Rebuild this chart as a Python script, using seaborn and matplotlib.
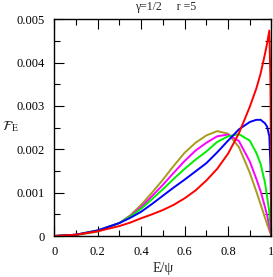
"""
Energy distribution F_E for gamma=1/2, r=5
"""

import numpy as np
import pandas as pd
import matplotlib
matplotlib.use("Agg")
import matplotlib.pyplot as plt
from matplotlib.ticker import MultipleLocator, FuncFormatter
import seaborn as sns

# E/psi sample points
e_psi = [0, 0.1, 0.2, 0.3, 0.35, 0.4, 0.45, 0.5, 0.55, 0.6, 0.65, 0.7, 0.75,
         0.8, 0.85, 0.9, 0.93, 0.95, 0.97, 0.98, 0.99, 0.995, 1.0]

# curve values in units of 1e-3
f_red = [0, 0.03, 0.11, 0.23, 0.31, 0.41, 0.5, 0.6, 0.72, 0.87, 1.05, 1.28, 1.55,
         1.9, 2.37, 2.98, 3.4, 3.75, 4.2, 4.45, 4.74, 3.6, 0]
f_blue = [0, 0.03, 0.13, 0.3, 0.42, 0.56, 0.74, 0.93, 1.12, 1.3, 1.49, 1.68, 1.93,
          2.2, 2.46, 2.63, 2.68, 2.68, 2.6, 2.52, 2.3, 1.64, 0]
f_green = [0, 0.03, 0.13, 0.3, 0.45, 0.63, 0.85, 1.08, 1.32, 1.55, 1.76, 1.95, 2.17,
           2.3, 2.35, 2.2, 1.92, 1.66, 1.23, 0.9, 0.55, 0.25, 0]
f_magenta = [0, 0.03, 0.12, 0.3, 0.46, 0.67, 0.92, 1.18, 1.46, 1.73, 1.97, 2.15, 2.3,
             2.34, 2.19, 1.72, 1.32, 1.03, 0.67, 0.47, 0.23, 0.12, 0]
f_olive = [0, 0.02, 0.1, 0.3, 0.48, 0.72, 1.0, 1.3, 1.62, 1.92, 2.15, 2.32, 2.42,
           2.36, 2.05, 1.46, 1.03, 0.73, 0.42, 0.27, 0.13, 0.06, 0]

curves = {
    "olive": f_olive,
    "magenta": f_magenta,
    "green": f_green,
    "blue": f_blue,
    "red": f_red,
}
colors = {"olive": "#a89c1c", "magenta": "#ff00ff", "green": "#00ee00",
          "blue": "#0000ff", "red": "#ff0000"}

rows = []
for name, vals in curves.items():
    for x, v in zip(e_psi, vals):
        rows.append({"E": x, "F": v * 1e-3, "curve": name})
df = pd.DataFrame(rows)

sns.set_style("ticks")
plt.rcParams["font.family"] = ["Liberation Serif", "DejaVu Serif"]
plt.rcParams["mathtext.fontset"] = "stix"

fig = plt.figure(figsize=(2.73, 2.77), dpi=100)
ax = fig.add_axes([0.199, 0.148, 0.7955, 0.7825])

sns.lineplot(data=df, x="E", y="F", hue="curve", palette=colors,
             hue_order=list(curves.keys()), linewidth=1.4, legend=False,
             sort=False, estimator=None, ax=ax)

ax.set_xlim(0, 1)
ax.set_ylim(0, 0.005)
ax.xaxis.set_major_locator(MultipleLocator(0.2))
ax.xaxis.set_minor_locator(MultipleLocator(0.1))
ax.yaxis.set_major_locator(MultipleLocator(0.001))
ax.yaxis.set_minor_locator(MultipleLocator(0.0005))
fmt = FuncFormatter(lambda v, p: "%g" % round(v, 6))
ax.xaxis.set_major_formatter(fmt)
ax.yaxis.set_major_formatter(fmt)

ax.tick_params(which="both", direction="in", top=True, right=True,
               width=0.8, colors="black", labelsize=9, pad=7)
ax.tick_params(which="major", length=7.5)
ax.tick_params(which="minor", length=4)
for s in ax.spines.values():
    s.set_linewidth(1.0)
    s.set_color("black")

ax.set_xlabel("E/\u03c8", fontsize=10)
ax.xaxis.set_label_coords(0.5, -0.148)
ax.xaxis.label.set_va("center")
ax.set_ylabel(r"$\mathcal{F}_{\mathrm{E}}$", fontsize=10, rotation=0)
ax.yaxis.set_label_coords(-0.2, 0.503)
ax.yaxis.label.set_va("center")
ax.yaxis.label.set_ha("center")

fig.text(0.607, 1 - 7 / 277, "\u03b3=1/2     r =5", fontsize=8.5,
         ha="center", va="center")

fig.savefig("out.png", dpi=100)
